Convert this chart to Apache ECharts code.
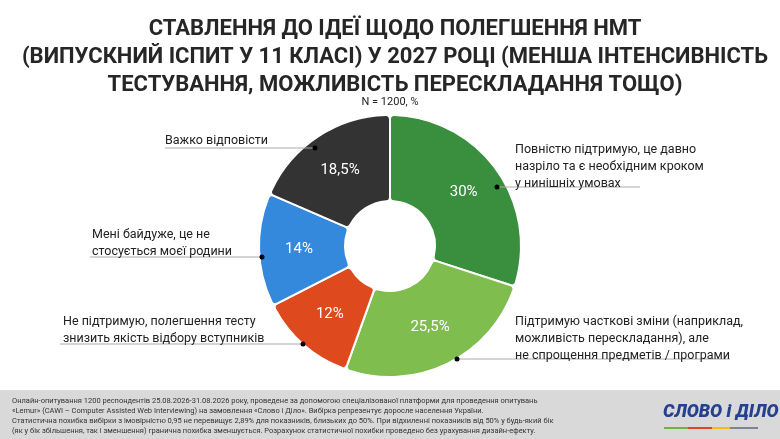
<!DOCTYPE html>
<html><head><meta charset="utf-8">
<script src="https://cdn.jsdelivr.net/npm/echarts@6/dist/echarts.min.js"></script>
<style>html,body{margin:0;padding:0;background:#fff}#c{width:780px;height:439px}</style>
</head><body><div id="c"></div>
<script>
var categories = [
  'Повністю підтримую, це давно\nназріло та є необхідним кроком\nу нинішніх умовах',
  'Підтримую часткові зміни (наприклад,\nможливість перескладання), але\nне спрощення предметів / програми',
  'Не підтримую, полегшення тесту\nзнизить якість відбору вступників',
  'Мені байдуже, це не\nстосується моєї родини',
  'Важко відповісти'
];
var values = [30, 25.5, 12, 14, 18.5];
var colors = ['#3a8f3e', '#80bd4f', '#de4a1e', '#3489dd', '#333333'];

// where each outside label and its leader line go
var labelPos = [
  {x: 515, y: 141, dot: [497, 187], line: [[515, 187], [640, 187]]},
  {x: 515, y: 313, dot: [457, 359], line: [[515, 359], [730, 359]]},
  {x: 63, y: 313, dot: [303, 344], line: [[250, 344], [60, 344]]},
  {x: 92, y: 226, dot: [262, 257], line: [[230, 257], [90, 257]]},
  {x: 165, y: 132, dot: [315, 148], line: [[262, 148], [165, 148]]}
];

var chart = echarts.init(document.getElementById('c'));
var data = values.map(function(v, i){
  return {value: v, name: categories[i], itemStyle: {color: colors[i]}};
});
var dots = labelPos.map(function(p){
  return {type: 'circle', shape: {cx: p.dot[0], cy: p.dot[1], r: 2.5}, style: {fill: '#000'}, z: 100};
});
var footer = 'Онлайн-опитування 1200 респондентів 25.08.2026-31.08.2026 року, проведене за допомогою спеціалізованої платформи для проведення опитувань\n' +
  '«Lemur» (CAWI – Computer Assisted Web Interviewing) на замовлення «Слово і Діло». Вибірка репрезентує доросле населення України.\n' +
  'Статистична похибка вибірки з імовірністю 0,95 не перевищує 2,89% для показників, близьких до 50%. При відхиленні показників від 50% у будь-який бік\n' +
  '(як у бік збільшення, так і зменшення) гранична похибка зменшується. Розрахунок статистичної похибки проведено без урахування дизайн-ефекту.';

chart.setOption({
  animation: false,
  title: [{
    text: 'СТАВЛЕННЯ ДО ІДЕЇ ЩОДО ПОЛЕГШЕННЯ НМТ\n(ВИПУСКНИЙ ІСПИТ У 11 КЛАСІ) У 2027 РОЦІ (МЕНША ІНТЕНСИВНІСТЬ\nТЕСТУВАННЯ, МОЖЛИВІСТЬ ПЕРЕСКЛАДАННЯ ТОЩО)',
    left: 390, top: 10, textAlign: 'center',
    textStyle: {fontFamily: 'Roboto', fontWeight: 'bold', fontSize: 22, lineHeight: 28, color: '#262626'}
  }, {
    text: 'N = 1200, %', left: 'center', top: 92,
    textStyle: {fontFamily: 'Roboto', fontWeight: 'normal', fontSize: 11, color: '#222'}
  }],
  graphic: [
    {type: 'rect', shape: {x: 0, y: 390, width: 780, height: 49}, style: {fill: '#d9d9d9'}, z: 0},
    {type: 'text', x: 12, y: 396, style: {text: footer, font: '7.5px "Liberation Sans Narrow", Roboto', lineHeight: 10, fill: '#333'}},
    {type: 'text', x: 663, y: 403, style: {text: 'СЛОВО і ДІЛО', font: 'italic 900 18px Roboto', fill: '#24408e'}},
    {type: 'rect', shape: {x: 664, y: 427, width: 24, height: 2}, style: {fill: '#6cb33f'}},
    {type: 'rect', shape: {x: 688, y: 427, width: 24, height: 2}, style: {fill: '#e2412d'}},
    {type: 'rect', shape: {x: 712, y: 427, width: 18, height: 2}, style: {fill: '#f5b819'}},
    {type: 'rect', shape: {x: 730, y: 427, width: 28, height: 2}, style: {fill: '#7b8593'}}
  ].concat(dots),
  series: [{
    type: 'pie', center: [390, 246], radius: [45, 131], startAngle: 90,
    itemStyle: {borderColor: '#fff', borderWidth: 2, borderRadius: 4},
    label: {
      position: 'inside', color: '#fff', fontSize: 15, fontFamily: 'Roboto',
      formatter: function(p){ return String(p.value).replace('.', ',') + '%'; }
    },
    emphasis: {disabled: true},
    data: data
  }, {
    type: 'pie', center: [390, 246], radius: [45, 131], startAngle: 90,
    itemStyle: {color: 'transparent', borderWidth: 0},
    silent: true, z: 5,
    label: {show: true, position: 'outside', color: '#222', fontSize: 12.5, lineHeight: 17, fontFamily: 'Roboto',
      align: 'left', formatter: '{b}'},
    labelLine: {show: true, lineStyle: {color: '#aaa', width: 1}},
    labelLayout: function(p){
      var q = labelPos[p.dataIndex];
      return {x: q.x, y: q.y, align: 'left', verticalAlign: 'top',
        labelLinePoints: [q.dot, q.line[0], q.line[1]]};
    },
    data: values.map(function(v, i){ return {value: v, name: categories[i]}; })
  }]
});
</script></body></html>
